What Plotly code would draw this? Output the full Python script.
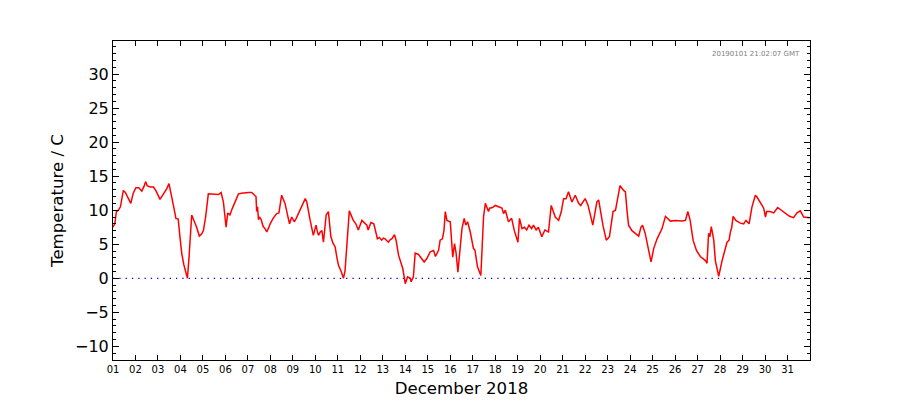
import numpy as np
import pandas as pd
import plotly.graph_objects as go

# fractional day of month (December 2018) and temperature (C)
day = [1.00, 1.08, 1.15, 1.24, 1.33, 1.46, 1.55, 1.70, 1.79, 1.90, 2.02, 2.15, 2.28, 2.38, 2.45, 2.52,
       2.65, 2.80, 2.92, 3.09, 3.20, 3.31, 3.40, 3.49, 3.55, 3.61, 3.70, 3.80, 3.90, 3.98, 4.06, 4.15,
       4.25, 4.31, 4.38, 4.45, 4.50, 4.60, 4.72, 4.84, 4.94, 5.02, 5.12, 5.24, 5.40, 5.54, 5.62, 5.69,
       5.81, 5.91, 6.03, 6.10, 6.14, 6.20, 6.30, 6.43, 6.58, 6.72, 6.87, 7.02, 7.17, 7.32, 7.36, 7.39,
       7.43, 7.47, 7.51, 7.58, 7.68, 7.76, 7.84, 7.92, 7.99, 8.12, 8.20, 8.28, 8.38, 8.50, 8.65, 8.76,
       8.85, 8.95, 9.06, 9.15, 9.25, 9.40, 9.55, 9.62, 9.70, 9.77, 9.91, 10.03, 10.08, 10.14, 10.22, 10.29,
       10.36, 10.48, 10.58, 10.69, 10.78, 10.88, 10.96, 11.03, 11.15, 11.25, 11.32, 11.51, 11.60, 11.69,
       11.80, 11.91, 12.07, 12.18, 12.29, 12.35, 12.47, 12.60, 12.76, 12.85, 12.95, 13.03, 13.10, 13.18,
       13.25, 13.33, 13.40, 13.52, 13.59, 13.70, 13.80, 13.89, 14.00, 14.10, 14.22, 14.26, 14.36, 14.44,
       14.59, 14.73, 14.84, 14.96, 15.11, 15.26, 15.34, 15.48, 15.55, 15.65, 15.72, 15.78, 15.85, 16.00,
       16.11, 16.19, 16.26, 16.34, 16.45, 16.52, 16.62, 16.69, 16.77, 16.89, 17.03, 17.10, 17.21, 17.36,
       17.48, 17.56, 17.70, 17.75, 17.88, 18.00, 18.15, 18.30, 18.37, 18.45, 18.59, 18.73, 18.85, 19.01,
       19.08, 19.19, 19.30, 19.40, 19.50, 19.62, 19.70, 19.82, 19.92, 20.07, 20.21, 20.37, 20.49, 20.67,
       20.82, 20.94, 21.04, 21.15, 21.26, 21.41, 21.56, 21.71, 21.80, 22.00, 22.13, 22.34, 22.52, 22.60,
       22.79, 22.94, 23.08, 23.24, 23.35, 23.55, 23.71, 23.79, 23.86, 23.93, 24.08, 24.25, 24.38, 24.48,
       24.55, 24.67, 24.82, 24.93, 25.05, 25.20, 25.42, 25.57, 25.79, 26.01, 26.31, 26.46, 26.57, 26.67,
       26.80, 26.95, 27.12, 27.35, 27.42, 27.49, 27.55, 27.61, 27.72, 27.79, 27.94, 28.09, 28.31, 28.40,
       28.46, 28.52, 28.58, 28.70, 28.90, 29.05, 29.15, 29.29, 29.42, 29.57, 29.65, 29.80, 29.94, 30.02,
       30.07, 30.22, 30.39, 30.56, 30.73, 30.90, 31.09, 31.27, 31.42, 31.57, 31.72, 31.99]
temp = [7.5, 8.0, 9.8, 10.0, 10.5, 12.9, 12.6, 11.5, 11.0, 12.5, 13.3, 13.3, 12.8, 13.5, 14.2, 13.6,
        13.4, 13.4, 12.8, 11.6, 12.2, 12.7, 13.2, 13.9, 13.0, 12.2, 10.5, 8.8, 8.7, 6.0, 3.6, 2.0,
        0.8, 0.0, 3.0, 8.0, 9.3, 8.5, 7.5, 6.2, 6.5, 7.0, 9.0, 12.4, 12.4, 12.4, 12.3, 12.3,
        12.6, 11.2, 7.5, 9.5, 9.5, 9.3, 10.2, 11.2, 12.4, 12.5, 12.6, 12.6, 12.6, 12.2, 12.0, 9.8,
        10.5, 8.6, 9.0, 8.7, 7.6, 7.3, 6.8, 7.4, 8.0, 8.8, 9.2, 9.5, 9.6, 12.2, 11.0, 9.5,
        8.0, 9.0, 8.3, 8.8, 9.5, 10.7, 11.7, 11.2, 10.0, 8.5, 6.3, 7.8, 7.0, 6.3, 6.8, 7.0,
        5.3, 9.3, 9.8, 6.1, 5.2, 4.6, 3.0, 1.9, 1.0, 0.0, 1.1, 9.9, 9.2, 8.5,
        8.0, 7.1, 8.5, 8.2, 7.8, 7.1, 8.2, 8.0, 5.8, 6.0, 5.6, 5.9, 5.8, 5.5,
        5.3, 5.7, 5.8, 6.4, 5.6, 3.4, 2.2, 1.4, -0.8, 0.2, 0.0, -0.5, 0.2, 3.7,
        3.5, 2.9, 2.4, 2.9, 3.9, 4.1, 3.2, 4.1, 5.6, 5.8, 7.0, 9.8, 8.5, 8.3,
        3.1, 5.1, 3.7, 0.9, 5.0, 7.3, 8.8, 7.8, 8.3, 6.8, 4.4, 4.1, 1.7, 0.4,
        9.0, 11.0, 9.8, 10.3, 10.4, 10.7, 10.5, 10.3, 9.5, 10.0, 8.3, 8.8, 7.0, 5.3,
        8.8, 7.3, 7.5, 7.1, 7.8, 7.3, 7.8, 7.1, 7.5, 6.1, 7.1, 6.8, 10.7, 9.0,
        8.5, 9.8, 11.7, 11.7, 12.7, 11.2, 12.2, 11.0, 10.7, 11.7, 10.7, 7.8, 11.2, 11.5,
        7.8, 5.6, 6.1, 9.8, 10.0, 13.6, 12.9, 12.7, 10.0, 7.8, 7.0, 6.6, 6.2, 7.5,
        7.8, 6.6, 3.9, 2.4, 4.4, 5.8, 7.3, 9.1, 8.4, 8.5, 8.4, 8.5, 9.8, 8.5,
        5.6, 4.1, 3.2, 2.6, 2.2, 6.6, 6.1, 7.6, 5.6, 2.6, 0.3, 2.6, 5.3, 5.6,
        6.8, 7.5, 9.1, 8.5, 8.1, 8.0, 8.5, 8.0, 10.5, 12.2, 11.9, 11.0, 10.3, 9.0,
        9.8, 9.8, 9.6, 10.4, 10.0, 9.5, 9.1, 8.9, 9.6, 9.9, 9.0, 8.9]

x_start = "2018-12-01"
x_end = "2019-01-01"
x_title = "December 2018"
y_title = "Temperature / C"
stamp = "20190101 21:02:07 GMT"
tick_days = pd.date_range(x_start, "2018-12-31", freq="D")
tick_labels = [f"{d.day:02d}" for d in tick_days]

times = pd.Timestamp(x_start) + pd.to_timedelta(np.array(day) - 1.0, unit="D")

fig = go.Figure()
fig.add_trace(go.Scatter(x=[x_start, x_end], y=[0, 0], mode="lines",
                         line=dict(color="blue", width=1.3, dash="1.3px,5px"), hoverinfo="skip"))
fig.add_trace(go.Scatter(x=times, y=temp, mode="lines",
                         line=dict(color="red", width=1.5)))

font = "DejaVu Sans, sans-serif"
fig.update_layout(
    width=900, height=400,
    margin=dict(l=113, r=90, t=41, b=40),
    paper_bgcolor="white", plot_bgcolor="white",
    showlegend=False,
    font=dict(family=font, color="black"),
    xaxis=dict(
        type="date", range=[x_start, x_end],
        tickmode="array", tickvals=tick_days, ticktext=tick_labels,
        ticks="inside", ticklen=5, tickcolor="black", tickwidth=1,
        showline=True, linecolor="black", linewidth=1, mirror="allticks",
        showgrid=False, zeroline=False,
        tickfont=dict(size=10, family=font, color="black"),
        title=dict(text=x_title, font=dict(size=16.6, family=font), standoff=8),
        automargin=False,
    ),
    yaxis=dict(
        range=[-12, 34.85], tickmode="linear", tick0=0, dtick=5,
        ticks="inside", ticklen=6, tickcolor="black", tickwidth=1,
        minor=dict(dtick=1, tick0=0, ticks="inside", ticklen=3, tickcolor="black", showgrid=False),
        showline=True, linecolor="black", linewidth=1, mirror="allticks",
        showgrid=False, zeroline=False,
        tickfont=dict(size=16, family=font, color="black"),
        title=dict(text=y_title, font=dict(size=16.6, family=font), standoff=7),
        automargin=False,
    ),
    annotations=[dict(text=stamp, xref="paper", yref="paper", x=0.9885, y=0.959,
                      xanchor="right", yanchor="middle", showarrow=False,
                      font=dict(size=7, color="grey", family=font))],
)

fig.write_html("out.html")
